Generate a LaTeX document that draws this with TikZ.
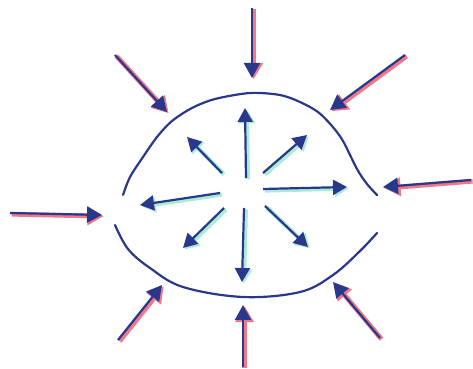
\documentclass[tikz,border=0pt]{standalone}
\usepackage{xcolor}
\usetikzlibrary{arrows.meta}
\definecolor{inkblue}{RGB}{42,56,140}
\definecolor{redshade}{RGB}{240,120,135}
\definecolor{greenshade}{RGB}{170,236,212}

\begin{document}
\begin{tikzpicture}[
        x=0.5pt, y=-0.5pt,
        rim/.style={draw=inkblue, line width=1.1pt, line cap=round},
        outarr/.style={draw=inkblue, line width=1.1pt, -{Triangle[length=7.5pt,width=8pt]},
            preaction={draw=redshade, line width=2.4pt, -{Triangle[length=8pt,width=9pt]},
                transform canvas={shift={(0.8pt,-0.6pt)}}}},
        inarr/.style={draw=inkblue, line width=1.1pt, -{Triangle[length=7pt,width=7.5pt]},
            preaction={draw=greenshade, line width=2.2pt, -{Triangle[length=7pt,width=8pt]},
                transform canvas={shift={(0.9pt,-0.7pt)}}}}
    ]
    \useasboundingbox (0,0) rectangle (473,369);

    % Rim
    \draw[rim] plot[smooth, tension=0.5] coordinates {(123,195) (130,177) (143,157) (157,137) (172,121) (192,108) (215,99) (250,93) (280,95) (300,102) (318,112) (332,126) (343,141) (357,169) (367,184) (377,195)};
    \draw[rim] plot[smooth, tension=0.6] coordinates {(115,225) (128,249) (150,268) (183,287) (243,297) (300,292) (333,275) (360,251) (377,233)};

    % Outer arrows
    \coordinate (ot1) at (252,8);   \coordinate (oh1) at (252,78);
    \coordinate (ot2) at (405,55);  \coordinate (oh2) at (330,110);
    \coordinate (ot3) at (471,180); \coordinate (oh3) at (383,187);
    \coordinate (ot4) at (380,338); \coordinate (oh4) at (333,282);
    \coordinate (ot5) at (243,367); \coordinate (oh5) at (243,305);
    \coordinate (ot6) at (118,340); \coordinate (oh6) at (162,285);
    \coordinate (ot7) at (10,213);  \coordinate (oh7) at (102,215);
    \coordinate (ot8) at (115,55);  \coordinate (oh8) at (167,112);
    \draw[outarr] (ot1) -- (oh1); \draw[outarr] (ot2) -- (oh2);
    \draw[outarr] (ot3) -- (oh3); \draw[outarr] (ot4) -- (oh4);
    \draw[outarr] (ot5) -- (oh5); \draw[outarr] (ot6) -- (oh6);
    \draw[outarr] (ot7) -- (oh7); \draw[outarr] (ot8) -- (oh8);

    % Inner arrows
    \coordinate (it1) at (246,178); \coordinate (ih1) at (245,108);
    \coordinate (it2) at (263,173); \coordinate (ih2) at (307,135);
    \coordinate (it3) at (263,189); \coordinate (ih3) at (347,187);
    \coordinate (it4) at (265,206); \coordinate (ih4) at (308,247);
    \coordinate (it5) at (244,208); \coordinate (ih5) at (242,282);
    \coordinate (it6) at (224,208); \coordinate (ih6) at (183,248);
    \coordinate (it7) at (220,193); \coordinate (ih7) at (140,205);
    \coordinate (it8) at (222,173); \coordinate (ih8) at (187,137);
    \draw[inarr] (it1) -- (ih1); \draw[inarr] (it2) -- (ih2);
    \draw[inarr] (it3) -- (ih3); \draw[inarr] (it4) -- (ih4);
    \draw[inarr] (it5) -- (ih5); \draw[inarr] (it6) -- (ih6);
    \draw[inarr] (it7) -- (ih7); \draw[inarr] (it8) -- (ih8);

\end{tikzpicture}
\end{document}
